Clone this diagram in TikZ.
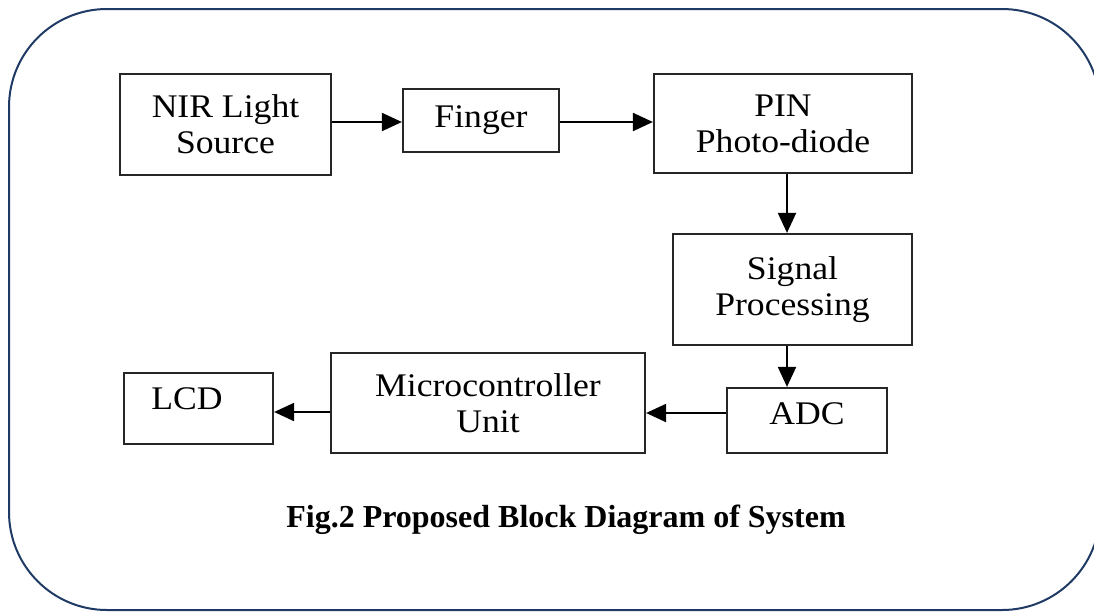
\documentclass[tikz,border=0pt]{standalone}
\usepackage{fontspec}
\setmainfont{Liberation Serif}
\newfontfamily\boxfont[FakeStretch=1.08]{Liberation Serif}
\usetikzlibrary{arrows.meta}
\definecolor{framecol}{HTML}{1F3A64}
\begin{document}
\begin{tikzpicture}[x=1pt,y=-1pt,
  blk/.style={draw=black!85, line width=2.2pt, inner sep=0pt, align=center,
    font=\boxfont\fontsize{33}{36}\selectfont},
  txt/.style={inner sep=0pt, font=\boxfont\fontsize{33}{36}\selectfont},
  conn/.style={draw=black, line width=2pt, -{Triangle[length=20pt,width=18pt]}}]
\useasboundingbox (0,0) rectangle (1094,611);
\draw[framecol, line width=2pt, rounded corners=98pt] (9,9) rectangle (1100,610);
\node[blk, minimum width=211pt, minimum height=101pt] (nir) at (225.5,124.5) {NIR Light\\Source};
\node[blk, minimum width=156pt, minimum height=63pt] (fing) at (481,120.5) {Finger};
\node[blk, minimum width=258pt, minimum height=99pt] (pin) at (783,123.5) {PIN\\Photo-diode};
\node[blk, minimum width=239pt, minimum height=111pt] (sig) at (792.5,289.5) {Signal\\Processing};
\node[blk, minimum width=160pt, minimum height=65pt] (adc) at (807,420.5) {};
\node[txt] (adct) at (807,414) {ADC};
\node[blk, minimum width=314pt, minimum height=100pt] (mcu) at (488,403) {Microcontroller\\Unit};
\node[blk, minimum width=149pt, minimum height=71pt] (lcd) at (198.5,408.5) {};
\node[txt] (lcdt) at (187,399) {LCD};
\node[inner sep=0pt, anchor=base, font=\bfseries\fontsize{32}{36}\selectfont] (cap) at (566,527) {Fig.2 Proposed Block Diagram of System};
\coordinate (r1) at (0,122);
\coordinate (col) at (787,0);
\coordinate (r2) at (0,413);
\coordinate (r3) at (0,412);
\draw[conn] (nir.east |- r1) -- (fing.west |- r1);
\draw[conn] (fing.east |- r1) -- (pin.west |- r1);
\draw[conn] (col |- pin.south) -- (col |- sig.north);
\draw[conn] (col |- sig.south) -- (col |- adc.north);
\draw[conn] (adc.west |- r2) -- (mcu.east |- r2);
\draw[conn] (mcu.west |- r3) -- (lcd.east |- r3);
\end{tikzpicture}
\end{document}
